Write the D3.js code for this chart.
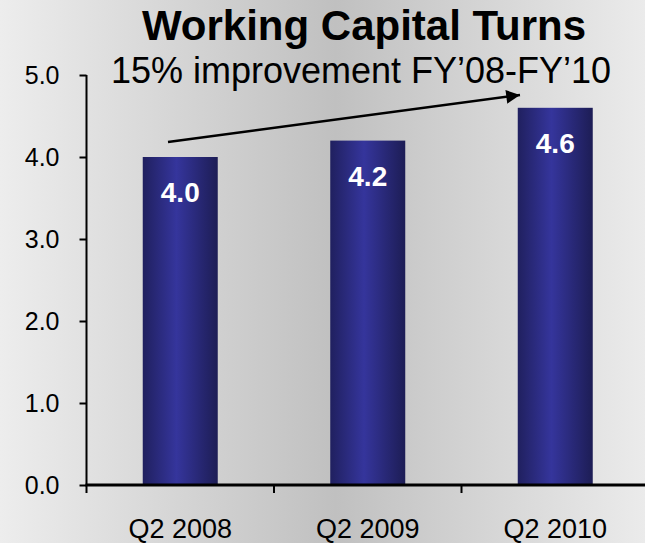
<!DOCTYPE html>
<html>
<head>
<meta charset="utf-8">
<script src="https://cdn.jsdelivr.net/npm/d3@7"></script>
<style>
  html, body { margin: 0; padding: 0; overflow: hidden; }
  svg { display: block; }
  text { font-family: "Liberation Sans", Arial, sans-serif; }
</style>
</head>
<body>
<svg id="chart" width="645" height="543"></svg>
<script>
const categories = ["Q2 2008", "Q2 2009", "Q2 2010"];
const values = [4.0, 4.2, 4.6];
const valueLabels = ["4.0", "4.2", "4.6"];
const yTicks = [0, 1, 2, 3, 4, 5];
const titleText = "Working Capital Turns";
const subtitleText = "15% improvement FY\u201908-FY\u201910";

const W = 645, H = 543;
const svg = d3.select("#chart");
const defs = svg.append("defs");

const bg = defs.append("linearGradient").attr("id", "bg").attr("x1", "0").attr("x2", "1").attr("y1", "0").attr("y2", "0");
bg.append("stop").attr("offset", "0%").attr("stop-color", "#ededed");
bg.append("stop").attr("offset", "52%").attr("stop-color", "#c0c0c0");
bg.append("stop").attr("offset", "100%").attr("stop-color", "#ebebeb");

const bar = defs.append("linearGradient").attr("id", "bar").attr("x1", "0").attr("x2", "1").attr("y1", "0").attr("y2", "0");
bar.append("stop").attr("offset", "0%").attr("stop-color", "#20205f");
bar.append("stop").attr("offset", "45%").attr("stop-color", "#35359c");
bar.append("stop").attr("offset", "100%").attr("stop-color", "#1d1d55");

defs.append("marker").attr("id", "arrow").attr("viewBox", "0 0 10 10")
  .attr("refX", 10).attr("refY", 5).attr("markerWidth", 7).attr("markerHeight", 5.5)
  .attr("markerUnits", "strokeWidth").attr("orient", "auto")
  .append("path").attr("d", "M0,0 L10,5 L0,10 Z").attr("fill", "#000");

svg.append("rect").attr("width", W).attr("height", H).attr("fill", "url(#bg)");

const x0 = 86.5;
const y = d3.scaleLinear().domain([0, 5]).range([485, 75]);
const x = d3.scaleBand().domain(categories).range([x0, x0 + 3 * 187.5]).paddingInner(0.6).paddingOuter(0.3);

// bars
svg.selectAll("rect.bar").data(values).join("rect")
  .attr("class", "bar")
  .attr("x", (d, i) => x(categories[i]))
  .attr("width", x.bandwidth())
  .attr("y", d => y(d))
  .attr("height", d => y(0) - y(d))
  .attr("fill", "url(#bar)");

svg.selectAll("text.val").data(values).join("text")
  .attr("class", "val")
  .attr("x", (d, i) => x(categories[i]) + x.bandwidth() / 2)
  .attr("y", d => y(d) + 45)
  .attr("text-anchor", "middle")
  .attr("font-size", 28).attr("font-weight", "bold").attr("fill", "#fff")
  .text((d, i) => valueLabels[i]);

// y axis
const yAxis = svg.append("g").attr("transform", `translate(${x0},0)`)
  .call(d3.axisLeft(y).tickValues(yTicks).tickFormat(d3.format(".1f")).tickSize(7).tickPadding(20));
yAxis.select(".domain").attr("stroke", "#000").attr("stroke-width", 2)
  .attr("d", `M0,${y(5)}V${y(0)}`);
yAxis.selectAll(".tick line").attr("stroke", "#000").attr("stroke-width", 2);
yAxis.selectAll(".tick text").attr("font-size", 25).attr("fill", "#000")
  .attr("font-family", "Liberation Sans, Arial, sans-serif");

// x axis
const xAxisScale = d3.scalePoint().domain([0, 1, 2, 3]).range([x0, x0 + 3 * 187.5]);
const xAxis = svg.append("g").attr("transform", `translate(0,${y(0)})`);
xAxis.append("line").attr("x1", x0 - 1).attr("x2", W).attr("y1", 0).attr("y2", 0)
  .attr("stroke", "#000").attr("stroke-width", 3);
xAxis.selectAll("line.tk").data([0, 1, 2]).join("line").attr("class", "tk")
  .attr("x1", d => xAxisScale(d)).attr("x2", d => xAxisScale(d))
  .attr("y1", 0).attr("y2", 8).attr("stroke", "#000").attr("stroke-width", 2);
xAxis.selectAll("text").data(categories).join("text")
  .attr("x", d => x(d) + x.bandwidth() / 2)
  .attr("y", 53)
  .attr("text-anchor", "middle")
  .attr("font-size", 27).attr("fill", "#000")
  .text(d => d);

// title
svg.append("text").attr("x", 364).attr("y", 40).attr("text-anchor", "middle")
  .attr("font-size", 42).attr("font-weight", "bold").attr("fill", "#000").text(titleText);
svg.append("text").attr("x", 361).attr("y", 83).attr("text-anchor", "middle")
  .attr("font-size", 36).attr("fill", "#000").text(subtitleText);

// arrow
svg.append("line").attr("x1", 168).attr("y1", 142).attr("x2", 520).attr("y2", 95)
  .attr("stroke", "#000").attr("stroke-width", 2.5).attr("marker-end", "url(#arrow)");
</script>
</body>
</html>
